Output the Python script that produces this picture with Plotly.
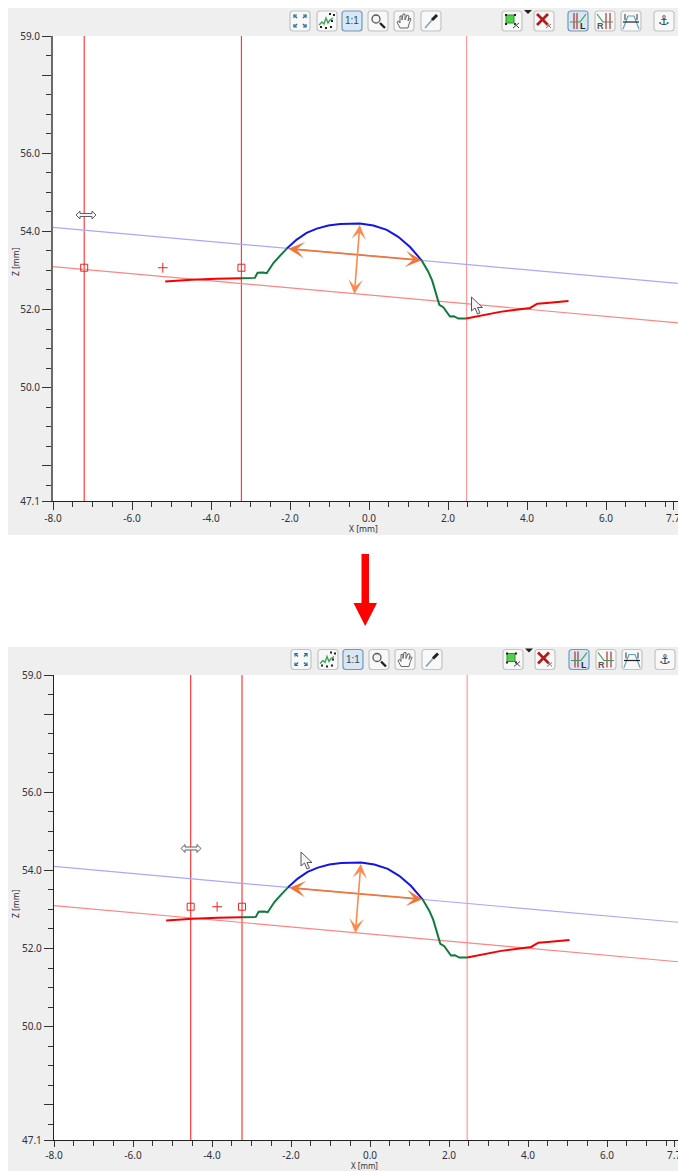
import plotly.graph_objects as go

W, H = 678, 1171
FONT = "Noto Sans"

# ---- measured profile (same part in both panels) ----
left_red_x = [-5.16, -4.87, -4.49, -3.86, -3.24]
left_red_z = [52.72, 52.74, 52.76, 52.79, 52.80]
left_green_x = [-3.24, -2.89, -2.82, -2.68, -2.59, -2.42, -2.25, -2.08]
left_green_z = [52.80, 52.81, 52.94, 52.95, 52.93, 53.19, 53.38, 53.56]
cap_blue_x = [-2.08, -1.83, -1.58, -1.32, -1.03, -0.73, -0.23, 0.11, 0.45, 0.74, 1.04, 1.33]
cap_blue_z = [53.56, 53.79, 53.96, 54.07, 54.15, 54.19, 54.20, 54.15, 54.04, 53.86, 53.60, 53.26]
right_green_x = [1.33, 1.50, 1.60, 1.69, 1.78, 1.88, 2.05, 2.15, 2.26, 2.46]
right_green_z = [53.26, 52.97, 52.74, 52.42, 52.12, 52.06, 51.82, 51.83, 51.77, 51.77]
right_red_x = [2.46, 2.77, 3.32, 4.08, 4.26, 4.50, 5.05]
right_red_z = [51.77, 51.83, 51.94, 52.04, 52.15, 52.17, 52.22]

upper_line_x = [-8.0, 7.82]
upper_line_z = [54.10, 52.67]
lower_line_x = [-8.0, 7.82]
lower_line_z = [53.10, 51.66]

width_arrow_x = [-2.08, 1.33]
width_arrow_z = [53.56, 53.26]
height_arrow_x = [-0.23, -0.37]
height_arrow_z = [54.20, 52.40]

# ---- cursors and markers per panel ----
top_cursors = [-7.21, -3.23, 2.47]
top_squares_x = [-7.21, -3.23]
top_plus_x = [-5.22]
bottom_cursors = [-4.54, -3.24, 2.46]
bottom_squares_x = [-4.54, -3.24]
bottom_plus_x = [-3.87]
squares_z = 53.07

x_major = [-8, -6, -4, -2, 0, 2, 4, 6, 7.7]
x_labels = ["-8.0", "-6.0", "-4.0", "-2.0", "0.0", "2.0", "4.0", "6.0", "7.7"]
x_minor = [-7.5, -7, -6.5, -5.5, -5, -4.5, -3.5, -3, -2.5, -1.5, -1, -0.5, 0.5, 1, 1.5,
           2.5, 3, 3.5, 4.5, 5, 5.5, 6.5, 7, 7.5]
z_major = [59, 58, 56, 54, 52, 50, 48, 47.1]
z_labels = ["59.0", "", "56.0", "54.0", "52.0", "50.0", "", "47.1"]
z_minor = [58.5, 57.5, 57, 56.5, 55.5, 55, 54.5, 53.5, 53, 52.5, 51.5, 51, 50.5, 49.5,
           49, 48.5, 47.5]

RED, GREEN, BLUE = "#f50000", "#0f7a3e", "#1414e6"


def X(p):
    return p / W


def Y(p):
    return 1 - p / H


fig = go.Figure()
shapes, annos = [], []


def rect(x0, y0, x1, y1, fill, line=None, lw=1, layer="below"):
    shapes.append(dict(type="rect", xref="paper", yref="paper", x0=X(x0), x1=X(x1), y0=Y(y0), y1=Y(y1),
                       fillcolor=fill, line=dict(color=line or fill, width=lw if line else 0), layer=layer))


def path(pts, color=None, fill=None, lw=1, closed=False, layer="below"):
    d = "M" + "L".join(f"{X(a):.5f},{Y(b):.5f}" for a, b in pts) + ("Z" if closed else "")
    shapes.append(dict(type="path", xref="paper", yref="paper", path=d,
                       fillcolor=fill or "rgba(0,0,0,0)",
                       line=dict(color=color or "rgba(0,0,0,0)", width=lw), layer=layer))


def ptext(x, y, s, size=10, color="#30303c", angle=0, font=FONT, weight=None):
    annos.append(dict(xref="paper", yref="paper", x=X(x), y=Y(y), text=s, showarrow=False,
                      font=dict(size=size, color=color, family=font, weight=weight), textangle=angle,
                      xanchor="center", yanchor="middle", borderpad=0))


def button(cx, cy, active=False):
    r, s = 3, 10
    x0, x1, y0, y1 = cx - s, cx + s, cy - s, cy + s
    d = (f"M{X(x0 + r)},{Y(y0)}L{X(x1 - r)},{Y(y0)}Q{X(x1)},{Y(y0)} {X(x1)},{Y(y0 + r)}"
         f"L{X(x1)},{Y(y1 - r)}Q{X(x1)},{Y(y1)} {X(x1 - r)},{Y(y1)}L{X(x0 + r)},{Y(y1)}"
         f"Q{X(x0)},{Y(y1)} {X(x0)},{Y(y1 - r)}L{X(x0)},{Y(y0 + r)}Q{X(x0)},{Y(y0)} {X(x0 + r)},{Y(y0)}Z")
    shapes.append(dict(type="path", xref="paper", yref="paper", path=d,
                       fillcolor="#d9e7f4" if active else "#f8f8f8",
                       line=dict(color="#6f99bd" if active else "#c4c4c4", width=1.2), layer="below"))


def toolbar(dx, cy):
    b = {k: v + dx for k, v in dict(fit=300, pts=327, one=352, mag=378, hand=404, pip=431, crop=512,
                                    dele=544, L=578, R=605, pk=631, anc=664).items()}
    for k, c in b.items():
        button(c, cy, active=k in ("one", "L"))
    # fit: four corner arrows
    c = b["fit"]
    for sx, sy in ((-1, -1), (1, -1), (-1, 1), (1, 1)):
        a, e = (c + sx * 6, cy + sy * 6), (c + sx * 3, cy + sy * 3)
        path([e, a], "#2a6d99", lw=1.4)
        path([(a[0], a[1] - sy * 3), a, (a[0] - sx * 3, a[1])], "#2a6d99", lw=1.2)
    # points + curve
    c = b["pts"]
    path([(c - 8, cy + 4), (c - 5, cy + 1), (c - 3, cy + 3), (c - 1, cy - 3), (c + 1, cy + 2), (c + 3, cy - 1), (c + 6, cy - 3)],
         "#3da35a", lw=1.4)
    for a, e in ((-6, 6), (-1, 7), (4, 6), (5, 0), (7, -6), (3, -7)):
        path([(c + a, cy + e - 1), (c + a, cy + e + 1)], "#222", lw=2)
    # 1:1
    ptext(b["one"], cy, "1:1", 10, "#2a4a66", font="Liberation Sans")
    # magnifier
    c = b["mag"]
    shapes.append(dict(type="circle", xref="paper", yref="paper", x0=X(c - 6), x1=X(c + 2), y0=Y(cy - 6), y1=Y(cy + 2),
                       line=dict(color="#555", width=1.3), fillcolor="#f2f6fa", layer="below"))
    path([(c + 2, cy + 2), (c + 7, cy + 7)], "#222", lw=2.4)
    # hand
    c = b["hand"]
    path([(c - 4, cy + 7), (c - 7, cy + 1), (c - 5, cy), (c - 4, cy + 2), (c - 4, cy - 5), (c - 2, cy - 5), (c - 2, cy - 1), (c - 1, cy - 7),
          (c + 1, cy - 7), (c + 1, cy - 1), (c + 3, cy - 6), (c + 5, cy - 5), (c + 4, cy), (c + 6, cy - 3), (c + 7, cy - 2),
          (c + 5, cy + 3), (c + 4, cy + 7)], "#666", "#fafafa", 1, True)
    # pipette
    c = b["pip"]
    path([(c - 6, cy + 7), (c + 1, cy - 1)], "#8aa0b0", lw=1.6)
    path([(c + 1, cy - 1), (c + 6, cy - 6)], "#222", lw=3)
    # crop
    c = b["crop"]
    rect(c - 6, cy - 6, c + 2, cy + 2, "#55d04c", "#2f8f2f", 1)
    for a, e in ((-7, -7), (2, -7), (-7, 2), (2, 2)):
        rect(c + a, cy + e, c + a + 2, cy + e + 2, "#222")
    path([(c + 1, cy + 7), (c + 7, cy + 2)], "#444", lw=1)
    path([(c + 7, cy + 7), (c + 2, cy + 2)], "#444", lw=1)
    path([(c + 12, cy - 11), (c + 20, cy - 11), (c + 16, cy - 7)], None, "#222", 0, True)
    # delete
    c = b["dele"]
    path([(c - 7, cy - 7), (c + 4, cy + 4)], "#b01c1c", lw=2.6)
    path([(c + 4, cy - 7), (c - 7, cy + 4)], "#b01c1c", lw=2.6)
    path([(c + 2, cy + 7), (c + 7, cy + 3)], "#777", lw=1)
    path([(c + 7, cy + 7), (c + 3, cy + 3)], "#777", lw=1)
    # L
    c = b["L"]
    path([(c - 4, cy - 8), (c - 4, cy + 8)], "#b53030", lw=1.2)
    path([(c - 1, cy - 8), (c - 1, cy + 8)], "#b53030", lw=1.2)
    path([(c - 8, cy + 1), (c + 2, cy + 1), (c + 8, cy - 7)], "#3f9a55", lw=1.2)
    ptext(c + 5, cy + 5, "L", 9, "#2a2a2a", font="Liberation Sans", weight="bold")
    # R
    c = b["R"]
    path([(c + 1, cy - 8), (c + 1, cy + 8)], "#b53030", lw=1.2)
    path([(c + 5, cy - 8), (c + 5, cy + 8)], "#b53030", lw=1.2)
    path([(c - 8, cy - 7), (c - 2, cy + 1), (c + 8, cy + 1)], "#3f9a55", lw=1.2)
    ptext(c - 5, cy + 5, "R", 9, "#555", font="Liberation Sans", weight="bold")
    # peak
    c = b["pk"]
    path([(c - 8, cy + 8), (c - 3, cy - 5), (c + 3, cy - 5), (c + 8, cy + 8)], "#5f9fc8", lw=1.2)
    path([(c - 8, cy + 1), (c + 8, cy + 1)], "#222", lw=1.2)
    path([(c - 6, cy - 7), (c - 6, cy - 1)], "#333", lw=1)
    path([(c + 6, cy - 7), (c + 6, cy - 1)], "#333", lw=1)
    # anchor
    ptext(b["anc"], cy, "\u2693", 13, "#27455e", font="DejaVu Sans")


def pointer(x, y):
    path([(x, y), (x, y + 14), (x + 3.5, y + 11), (x + 6, y + 17), (x + 8.5, y + 16), (x + 6, y + 10.5), (x + 11, y + 10.5)],
         "#55555f", "#f4f4f6", 1, True, layer="above")


def resize(cx, cy):
    pts = [(cx - 10, cy), (cx - 6, cy - 4), (cx - 6, cy - 1.5), (cx + 6, cy - 1.5), (cx + 6, cy - 4), (cx + 10, cy),
           (cx + 6, cy + 4), (cx + 6, cy + 1.5), (cx - 6, cy + 1.5), (cx - 6, cy + 4)]
    path(pts, "#5f5f68", "#f6f6f6", 1, True, layer="above")


def panel(n, left, top, bottom, panel_top, cursors, squares_x, plus_x):
    xa, ya = ("x", "y") if n == 1 else ("x2", "y2")
    rect(8, panel_top, W, bottom + 34, "#efefef")
    rect(left, top, W, bottom, "#ffffff")
    for i, c in enumerate(cursors):
        fig.add_trace(go.Scatter(x=[c, c], y=[47.1, 59], mode="lines", xaxis=xa, yaxis=ya,
                                 line=dict(color="#ff9a9a" if i == 2 else "#ff3c3c", width=1.2)))
    fig.add_trace(go.Scatter(x=upper_line_x, y=upper_line_z, mode="lines", xaxis=xa, yaxis=ya,
                             line=dict(color="#a8a8ff", width=1.2)))
    fig.add_trace(go.Scatter(x=lower_line_x, y=lower_line_z, mode="lines", xaxis=xa, yaxis=ya,
                             line=dict(color="#ff8484", width=1.2)))
    for xs, zs, col in ((left_red_x, left_red_z, RED), (left_green_x, left_green_z, GREEN),
                        (cap_blue_x, cap_blue_z, BLUE), (right_green_x, right_green_z, GREEN),
                        (right_red_x, right_red_z, RED)):
        fig.add_trace(go.Scatter(x=xs, y=zs, mode="lines", xaxis=xa, yaxis=ya, line=dict(color=col, width=2)))
    fig.add_trace(go.Scatter(x=squares_x, y=[squares_z] * len(squares_x), mode="markers", xaxis=xa, yaxis=ya,
                             marker=dict(symbol="square-open", size=7, color="#ee2222", line=dict(width=1, color="#ee2222"))))
    fig.add_trace(go.Scatter(x=plus_x, y=[squares_z] * len(plus_x), mode="markers", xaxis=xa, yaxis=ya,
                             marker=dict(symbol="cross-thin", size=7, color="#ee2222", line=dict(width=1, color="#ee2222"))))
    for xs, zs, col, lw in ((width_arrow_x, width_arrow_z, "#f0763a", 1.8), (height_arrow_x, height_arrow_z, "#fb8a4c", 1.6)):
        annos.append(dict(x=xs[1], y=zs[1], ax=xs[0], ay=zs[0], xref=xa, yref=ya, axref=xa, ayref=ya, text="",
                          showarrow=True, arrowhead=3, startarrowhead=3, arrowside="end+start", arrowsize=1.5,
                          startarrowsize=1.5, arrowwidth=lw, arrowcolor=col, standoff=0, startstandoff=0))


panel(1, 53, 36, 501, 8, top_cursors, top_squares_x, top_plus_x)
panel(2, 54, 675, 1140, 647, bottom_cursors, bottom_squares_x, bottom_plus_x)

toolbar(0, 21)
toolbar(1, 659.5)

# axis titles
ptext(363, 529, "X [mm]", 8.5)
ptext(364, 1165.5, "X [mm]", 8)
ptext(15, 262, "Z [mm]", 8.5, angle=-90)
ptext(15, 904, "Z [mm]", 8.5, angle=-90)

# big arrow between the panels
path([(361.5, 554), (369, 554), (369, 603), (377, 603), (365.2, 626), (353.5, 603), (361.5, 603)], None, "#ff0000", 0, True)

# mouse pointers
pointer(471.5, 297)
resize(86, 215)
pointer(301, 852)
resize(191, 848.5)


def x_axis(left, anchor, color, major_len):
    return dict(domain=[X(left), 1], range=[-8, -8 + (W - left) / 39.5], anchor=anchor, tickmode="array",
                automargin=False, ticklabeloverflow="allow",
                tickvals=x_major, ticktext=x_labels, ticks="outside", ticklen=major_len, tickwidth=1, tickcolor="#333",
                showgrid=False, zeroline=False, showline=True, linecolor=color, linewidth=1.4,
                tickfont=dict(size=10, family=FONT, color="#30303c"),
                minor=dict(tickmode="array", tickvals=x_minor, ticks="outside", ticklen=5, tickwidth=1,
                           tickcolor="#333", showgrid=False))


def z_axis(top, bottom, anchor, color, lw):
    return dict(domain=[Y(bottom), Y(top)], range=[47.1, 59], anchor=anchor, tickmode="array",
                automargin=False, ticklabeloverflow="allow",
                tickvals=z_major, ticktext=z_labels, ticks="outside", ticklen=9, tickwidth=1, tickcolor="#333",
                showgrid=False, zeroline=False, showline=True, linecolor=color, linewidth=lw,
                tickfont=dict(size=10, family=FONT, color="#30303c"),
                minor=dict(tickmode="array", tickvals=z_minor, ticks="outside", ticklen=5, tickwidth=1,
                           tickcolor="#333", showgrid=False))


fig.update_layout(
    width=W, height=H, margin=dict(l=0, r=0, t=0, b=0, autoexpand=False), autosize=False,
    paper_bgcolor="#ffffff", plot_bgcolor="rgba(0,0,0,0)", showlegend=False,
    hovermode=False, shapes=shapes, annotations=annos,
    xaxis=x_axis(53, "y", "#222222", 8), yaxis=z_axis(36, 501, "x", "#6a6a6a", 2),
    xaxis2=x_axis(54, "y2", "#222222", 6), yaxis2=z_axis(675, 1140, "x2", "#222222", 1.4),
)

fig.write_html("out.html", config=dict(displayModeBar=False),
               post_script="document.documentElement.style.margin='0';document.body.style.margin='0';document.body.style.overflow='hidden';")
